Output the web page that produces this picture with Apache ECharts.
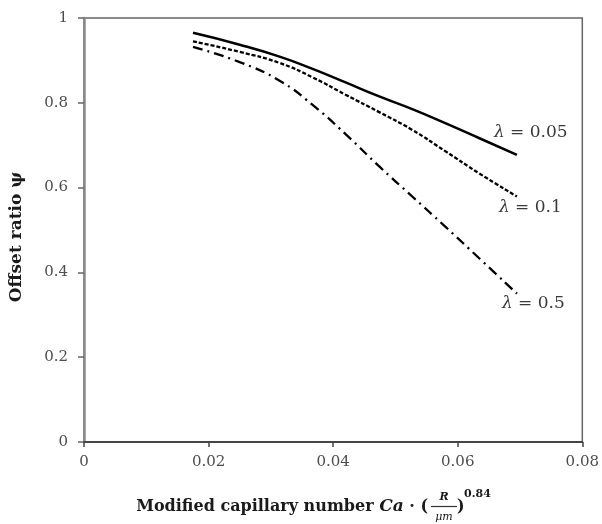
<!DOCTYPE html>
<html>
<head>
<meta charset="utf-8">
<script src="https://cdn.jsdelivr.net/npm/echarts@6/dist/echarts.min.js"></script>
<style>html,body{margin:0;padding:0;background:#fff}#c{width:602px;height:524px}</style>
</head>
<body>
<div id="c"></div>
<script>
// Data
var ca = [0.0175, 0.025, 0.0314, 0.0367, 0.042, 0.0474, 0.0527, 0.058, 0.0634, 0.0695];
var psiLambda005 = [0.965, 0.937, 0.909, 0.880, 0.848, 0.815, 0.785, 0.752, 0.717, 0.677];
var psiLambda01  = [0.945, 0.920, 0.894, 0.860, 0.819, 0.778, 0.736, 0.686, 0.634, 0.579];
var psiLambda05  = [0.932, 0.896, 0.852, 0.795, 0.726, 0.650, 0.579, 0.508, 0.434, 0.350];
var seriesNames = ['λ = 0.05', 'λ = 0.1', 'λ = 0.5'];
var xTickLabels = ['0', '0.02', '0.04', '0.06', '0.08'];
var yTickLabels = ['0', '0.2', '0.4', '0.6', '0.8', '1'];

function pairs(xs, ys) { return xs.map(function (x, i) { return [x, ys[i]]; }); }

var serif = 'DejaVu Serif';
var labelRich = { l: { fontFamily: serif, fontStyle: 'italic', fontSize: 17, color: '#3a3a3a' } };
function endLbl(name, off) {
  return {
    show: true, distance: 0, offset: off, align: 'left', verticalAlign: 'middle',
    fontFamily: serif, fontSize: 17, color: '#3a3a3a',
    formatter: '{l|λ}' + name.slice(1), rich: labelRich
  };
}

var chart = echarts.init(document.getElementById('c'));
chart.setOption({
  animation: false,
  backgroundColor: '#fff',
  grid: { left: 84, right: 18, top: 18, bottom: 82, show: true, borderColor: '#666', borderWidth: 1.5, backgroundColor: 'transparent' },
  xAxis: {
    type: 'value', min: 0, max: 0.08, interval: 0.02,
    axisLine: { show: true, lineStyle: { color: '#444', width: 1.8 } },
    axisTick: { show: true, length: 5, lineStyle: { color: '#444', width: 1.5 } },
    splitLine: { show: false },
    axisLabel: {
      margin: 13, fontFamily: serif, fontSize: 15, color: '#4d4d4d',
      formatter: function (v) { return xTickLabels[Math.round(v / 0.02)]; }
    }
  },
  yAxis: {
    type: 'value', min: 0, max: 1, interval: 0.2,
    axisLine: { show: true, lineStyle: { color: '#8a8a8a', width: 2.5 } },
    axisTick: { show: true, length: 6, lineStyle: { color: '#666', width: 1.5 } },
    splitLine: { show: false },
    axisLabel: {
      margin: 16, fontFamily: serif, fontSize: 15, color: '#4d4d4d',
      formatter: function (v) { return yTickLabels[Math.round(v / 0.2)]; }
    }
  },
  series: [
    { name: seriesNames[0], type: 'line', data: pairs(ca, psiLambda005), smooth: true, showSymbol: false,
      lineStyle: { color: '#000', width: 2.5, type: 'solid' }, endLabel: endLbl(seriesNames[0], [-23, -22]) },
    { name: seriesNames[1], type: 'line', data: pairs(ca, psiLambda01), smooth: true, showSymbol: false,
      lineStyle: { color: '#000', width: 2.3, type: [4, 2] }, endLabel: endLbl(seriesNames[1], [-18, 11]) },
    { name: seriesNames[2], type: 'line', data: pairs(ca, psiLambda05), smooth: true, showSymbol: false,
      lineStyle: { color: '#000', width: 2.3, type: [10, 5, 2, 5] }, endLabel: endLbl(seriesNames[2], [-15, 10]) }
  ],
  graphic: [
    { type: 'text', x: 17, y: 237, rotation: Math.PI / 2,
      style: { text: 'Offset ratio ψ', align: 'center', verticalAlign: 'middle', fontFamily: serif, fontWeight: 'bold', fontSize: 17, fill: '#1a1a1a' } },
    { type: 'text', x: 428, y: 507,
      style: { text: '{b|Modified capillary number }{i|Ca}{b| · (}', align: 'right', verticalAlign: 'middle',
        rich: {
          b: { fontFamily: serif, fontWeight: 'bold', fontSize: 16, fill: '#1a1a1a' },
          i: { fontFamily: serif, fontWeight: 'bold', fontStyle: 'italic', fontSize: 17, fill: '#1a1a1a' }
        } } },
    { type: 'text', x: 444, y: 497,
      style: { text: 'R', align: 'center', verticalAlign: 'middle', fontFamily: serif, fontStyle: 'italic', fontWeight: 'bold', fontSize: 11, fill: '#1a1a1a' } },
    { type: 'line', shape: { x1: 431, y1: 506.5, x2: 457, y2: 506.5 }, style: { stroke: '#333', lineWidth: 1.2 } },
    { type: 'text', x: 444, y: 517,
      style: { text: 'μm', align: 'center', verticalAlign: 'middle', fontFamily: serif, fontStyle: 'italic', fontSize: 11, fill: '#1a1a1a' } },
    { type: 'text', x: 457, y: 507,
      style: { text: ')', align: 'left', verticalAlign: 'middle', fontFamily: serif, fontWeight: 'bold', fontSize: 16, fill: '#1a1a1a' } },
    { type: 'text', x: 464, y: 494,
      style: { text: '0.84', align: 'left', verticalAlign: 'middle', fontFamily: serif, fontWeight: 'bold', fontSize: 11, fill: '#1a1a1a' } }
  ]
});
</script>
</body>
</html>
